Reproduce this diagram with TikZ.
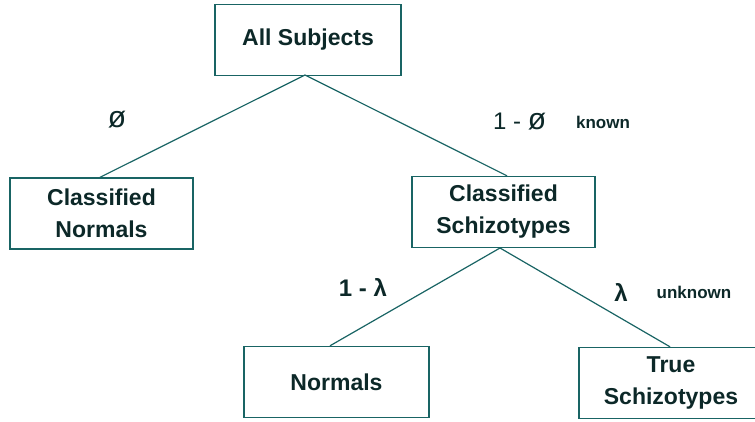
\documentclass[tikz,border=0pt]{standalone}
\usepackage{fontspec}
\setmainfont{Liberation Sans}
\newfontfamily\symfont{DejaVu Sans}
\definecolor{lincol}{RGB}{25,100,100}
\definecolor{txtcol}{RGB}{12,40,40}
\begin{document}
\begin{tikzpicture}[x=1pt,y=-1pt,
  box/.style={draw=lincol,line width=1.4pt,rectangle,inner sep=0pt,
    minimum height=71pt,align=center,text=txtcol,
    font=\fontsize{23}{32}\selectfont\bfseries},
  conn/.style={draw=lincol,line width=1.2pt},
  lbl/.style={text=txtcol,inner sep=0pt},
  big/.style={font=\fontsize{24}{28}\selectfont},
  small/.style={font=\fontsize{17}{20}\selectfont\bfseries}]
\useasboundingbox (0,0) rectangle (755,422);
\node[box,minimum width=186pt] (all) at (308,40) {All Subjects};
\node[box,minimum width=183pt] (cn) at (101.5,213.5) {Classified\\Normals};
\node[box,minimum width=183pt] (cs) at (503.5,212) {Classified\\Schizotypes};
\node[box,minimum width=185pt] (nor) at (336.5,382) {Normals};
\node[box,minimum width=184pt] (ts) at (671,383) {True\\Schizotypes};
\coordinate (a1) at (305,75);
\coordinate (c1) at (500,248);
\draw[conn] (a1) -- (cn.north -| 100,0);
\draw[conn] (a1) -- (cs.north -| 507,0);
\draw[conn] (c1) -- (nor.north -| 330,0);
\draw[conn] (c1) -- (ts.north -| 670,0);
\node[lbl,font=\fontsize{30}{34}\selectfont] (phi) at (117,120) {ø};
\node[lbl,big,anchor=west] (omphi) at (493,122) {1 - {\fontsize{30}{34}\selectfont ø}};
\node[lbl,small] (kn) at (603,122) {known};
\node[lbl,big,font=\fontsize{24}{28}\selectfont\bfseries] (oml) at (363,287) {1 - λ};
\node[lbl,big,font=\fontsize{24}{28}\selectfont\bfseries] (lam) at (621,292) {λ};
\node[lbl,small] (unk) at (694,292) {unknown};
\end{tikzpicture}
\end{document}
